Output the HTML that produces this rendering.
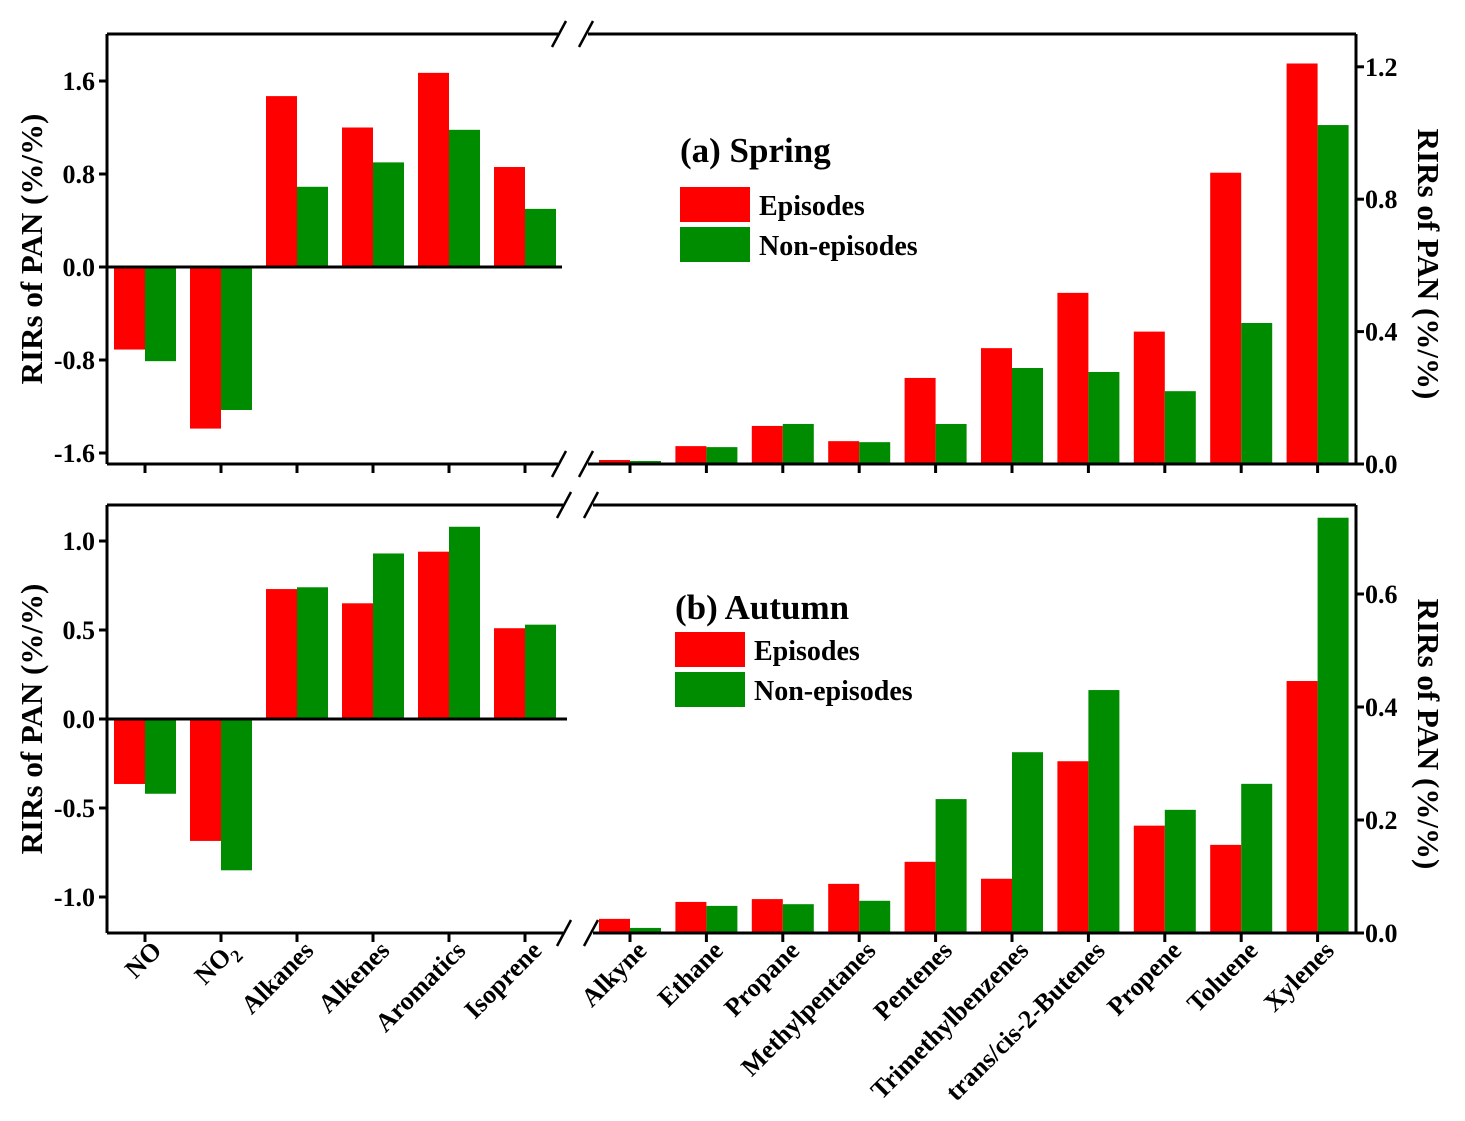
<!DOCTYPE html>
<html><head><meta charset="utf-8">
<style>
html,body{margin:0;padding:0;background:#fff;}
svg{display:block;font-family:"Liberation Serif",serif;font-weight:bold;}
</style></head>
<body>
<svg id="chart" width="1465" height="1121" viewBox="0 0 1465 1121" xmlns="http://www.w3.org/2000/svg"></svg>
<script>
const leftCats = ["NO","NO2","Alkanes","Alkenes","Aromatics","Isoprene"];
const rightCats = ["Alkyne","Ethane","Propane","Methylpentanes","Pentenes","Trimethylbenzenes","trans/cis-2-Butenes","Propene","Toluene","Xylenes"];
const springLeftEp = [-0.71,-1.39,1.47,1.20,1.67,0.86];
const springLeftNon = [-0.81,-1.23,0.69,0.90,1.18,0.50];
const springRightEp = [0.012,0.054,0.115,0.069,0.26,0.35,0.517,0.40,0.88,1.21];
const springRightNon = [0.009,0.051,0.121,0.066,0.121,0.29,0.278,0.22,0.426,1.024];
const autumnLeftEp = [-0.365,-0.685,0.73,0.65,0.94,0.51];
const autumnLeftNon = [-0.42,-0.85,0.74,0.93,1.08,0.53];
const autumnRightEp = [0.025,0.055,0.06,0.087,0.126,0.096,0.304,0.19,0.156,0.446];
const autumnRightNon = [0.009,0.048,0.051,0.057,0.237,0.32,0.43,0.218,0.264,0.735];
const springLeftTicks = [-1.6,-0.8,0.0,0.8,1.6];
const springRightTicks = [0.0,0.4,0.8,1.2];
const autumnLeftTicks = [-1.0,-0.5,0.0,0.5,1.0];
const autumnRightTicks = [0.0,0.2,0.4,0.6];

const NS="http://www.w3.org/2000/svg";
const svg=document.getElementById('chart');
function mk(tag,attrs,parent){const e=document.createElementNS(NS,tag);for(const k in attrs)e.setAttribute(k,attrs[k]);(parent||svg).appendChild(e);return e;}
const RED="#ff0000", GREEN="#008c00";
const L=107,R=1356,BW=31;
function xLeft(i){return 145+76*i;}
function xRight(i){return 630+76.4*i;}

function panel(p){
  const g=mk('g',{});
  
  
  const yL=v=>p.zeroL-v*p.sL;
  const yR=v=>p.bot-v*p.sR;
  leftCats.forEach((c,i)=>{
    [[p.lEp,RED,-BW,'episodes'],[p.lNon,GREEN,0,'non-episodes']].forEach(([arr,col,off,nm])=>{
      const v=arr[i],y0=yL(0),y1=yL(v);
      const r=mk('rect',{x:xLeft(i)+off,y:Math.min(y0,y1),width:BW,height:Math.abs(y1-y0),fill:col},g);
      
      
    });
  });
  rightCats.forEach((c,i)=>{
    [[p.rEp,RED,-BW,'episodes'],[p.rNon,GREEN,0,'non-episodes']].forEach(([arr,col,off,nm])=>{
      const v=arr[i],y0=yR(0),y1=yR(v);
      const r=mk('rect',{x:xRight(i)+off,y:y1,width:BW,height:y0-y1,fill:col},g);
      
      
    });
  });
  const ax={stroke:'#000','stroke-width':3,fill:'none'};
  mk('line',Object.assign({x1:L,y1:p.top,x2:L,y2:p.bot},ax),g);
  mk('line',Object.assign({x1:R,y1:p.top,x2:R,y2:p.bot},ax),g);
  mk('line',Object.assign({x1:L,y1:p.top,x2:p.brk,y2:p.top},ax),g);
  mk('line',Object.assign({x1:p.brk+30,y1:p.top,x2:R,y2:p.top},ax),g);
  mk('line',Object.assign({x1:L,y1:p.bot,x2:p.brk,y2:p.bot},ax),g);
  mk('line',Object.assign({x1:p.brk+30,y1:p.bot,x2:R,y2:p.bot},ax),g);
  mk('line',Object.assign({x1:L,y1:yL(0),x2:p.brk+4,y2:yL(0)},ax),g);
  [p.top,p.bot].forEach(y=>{
    mk('line',{x1:p.brk-6,y1:y+13,x2:p.brk+8,y2:y-13,stroke:'#000','stroke-width':2.5},g);
    mk('line',{x1:p.brk+21,y1:y+13,x2:p.brk+35,y2:y-13,stroke:'#000','stroke-width':2.5},g);
  });
  leftCats.forEach((c,i)=>mk('line',{x1:xLeft(i),y1:p.bot,x2:xLeft(i),y2:p.bot+9,stroke:'#000','stroke-width':3},g));
  rightCats.forEach((c,i)=>mk('line',{x1:xRight(i),y1:p.bot,x2:xRight(i),y2:p.bot+9,stroke:'#000','stroke-width':3},g));
  p.tL.forEach(v=>{
    mk('line',{x1:L-8,y1:yL(v),x2:L,y2:yL(v),stroke:'#000','stroke-width':3},g);
    const t=mk('text',{x:L-12,y:yL(v)+9,'text-anchor':'end','font-size':26},g);t.textContent=v.toFixed(1);
    
  });
  p.tR.forEach(v=>{
    mk('line',{x1:R,y1:yR(v),x2:R+8,y2:yR(v),stroke:'#000','stroke-width':3},g);
    const t=mk('text',{x:R+9,y:yR(v)+9,'font-size':26},g);t.textContent=v.toFixed(1);
    
  });
  const cy=(p.top+p.bot)/2;
  let t=mk('text',{x:0,y:0,'text-anchor':'middle','font-size':31,transform:`translate(42,${cy}) rotate(-90)`},g);
  t.textContent='RIRs of PAN (%/%)';
  t=mk('text',{x:0,y:0,'text-anchor':'middle','font-size':31,transform:`translate(1418,${cy+15}) rotate(90)`},g);
  t.textContent='RIRs of PAN (%/%)';
  t=mk('text',{x:p.lx,y:p.ly,'font-size':35},g);t.textContent=p.title;
  
  let s=mk('rect',{x:p.lx,y:p.sy,width:70,height:35,fill:RED},g);
  
  s=mk('rect',{x:p.lx,y:p.sy+40,width:70,height:35,fill:GREEN},g);
  
  t=mk('text',{x:p.lx+79,y:p.sy+28,'font-size':28},g);t.textContent='Episodes';
  
  t=mk('text',{x:p.lx+79,y:p.sy+68,'font-size':28},g);t.textContent='Non-episodes';
  
}
panel({name:'spring-panel',top:34,bot:464,zeroL:267,sL:116.25,sR:331,brk:558,
  lEp:springLeftEp,lNon:springLeftNon,rEp:springRightEp,rNon:springRightNon,
  tL:springLeftTicks,tR:springRightTicks,title:'(a) Spring',lx:680,ly:162,sy:187});
panel({name:'autumn-panel',top:505,bot:933,zeroL:719,sL:178,sR:565,brk:563,
  lEp:autumnLeftEp,lNon:autumnLeftNon,rEp:autumnRightEp,rNon:autumnRightNon,
  tL:autumnLeftTicks,tR:autumnRightTicks,title:'(b) Autumn',lx:675,ly:619,sy:632});
function xlabel(x,txt,nm){
  const t=mk('text',{x:0,y:0,'text-anchor':'end','font-size':26,transform:`translate(${x+18},${952}) rotate(-45)`});
  if(txt==='NO2'){t.innerHTML='NO<tspan font-size="18" dy="7">2</tspan>';}
  else t.textContent=txt;
  
  
}
leftCats.forEach((c,i)=>xlabel(xLeft(i),c,'x-label-'+c.toLowerCase()));
rightCats.forEach((c,i)=>xlabel(xRight(i),c,'x-label-'+c.toLowerCase().replace(/[^a-z0-9]+/g,'-')));
</script>
</body></html>
